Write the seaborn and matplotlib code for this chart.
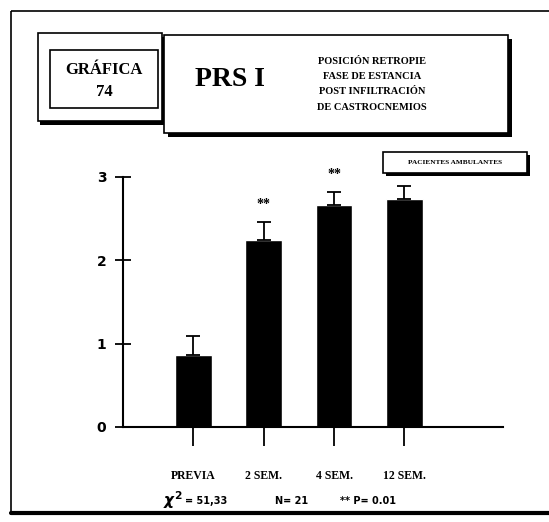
import numpy as np
import pandas as pd
import matplotlib
matplotlib.use("Agg")
import matplotlib.pyplot as plt
from matplotlib.patches import Rectangle
import seaborn as sns

#### DATA

periods = ["PREVIA", "2 SEM.", "4 SEM.", "12 SEM."]
means = [0.86, 2.24, 2.66, 2.74]
sem = [0.23, 0.22, 0.16, 0.15]
signif = ["", "**", "**", ""]
y_ticks = [0, 1, 2, 3]

df = pd.DataFrame({"Periodo": periods, "PRS": means})

sns.set_theme(style="white")
plt.rcParams["font.family"] = ["Liberation Serif", "DejaVu Serif"]
plt.rcParams["font.weight"] = "bold"
plt.rcParams["text.color"] = "black"
plt.rcParams["xtick.color"] = "black"
plt.rcParams["ytick.color"] = "black"

W, H = 549, 522
fig = plt.figure(figsize=(W / 100, H / 100), dpi=100)
fig.patch.set_facecolor("white")

#### BACKGROUND (pixel coords for frames & header)
bg = fig.add_axes([0, 0, 1, 1])
bg.set_xlim(0, W)
bg.set_ylim(H, 0)
bg.axis("off")

# outer frame
bg.add_patch(Rectangle((11, 11), 545, 503, fill=False, ec="black", lw=1.2))
bg.plot([11, 549], [513, 513], color="black", lw=3)

# GRÁFICA box (shadow + outer + inner)
bg.add_patch(Rectangle((40, 37), 124, 88, fc="black", ec="none"))
bg.add_patch(Rectangle((38, 33), 124, 88, fc="white", ec="black", lw=1.2))
bg.add_patch(Rectangle((50, 50), 108, 58, fill=False, ec="black", lw=1.2))
bg.text(104, 70, "GRÁFICA", ha="center", va="center", fontsize=12, fontweight="bold")
bg.text(104, 92, "74", ha="center", va="center", fontsize=12, fontweight="bold")

# PRS box with shadow
bg.add_patch(Rectangle((168, 39), 344, 98, fc="black", ec="none"))
bg.add_patch(Rectangle((164, 35), 344, 98, fc="white", ec="black", lw=1.2))
bg.text(230, 80, "PRS I", ha="center", va="center", fontsize=20, fontweight="bold")
subtitle = ["POSICIÓN RETROPIE", "FASE DE ESTANCIA", "POST INFILTRACIÓN", "DE CASTROCNEMIOS"]
for i, line in enumerate(subtitle):
    bg.text(372, 61 + i * 15.5, line, ha="center", va="center", fontsize=7.5, fontweight="bold")

# legend box
bg.add_patch(Rectangle((386, 155), 144, 21, fc="black", ec="none"))
bg.add_patch(Rectangle((383, 152), 144, 21, fc="white", ec="black", lw=1.2))
bg.text(455, 162.5, "PACIENTES AMBULANTES", ha="center", va="center", fontsize=5.2, fontweight="bold")

#### BAR PLOT
ax = fig.add_axes([123 / W, 1 - 427 / H, 380 / W, 250 / H])
ax.patch.set_alpha(0)
sns.barplot(data=df, x="Periodo", y="PRS", color="black", width=0.52,
            saturation=1, errorbar=None, ax=ax)
ax.errorbar(range(len(means)), means, yerr=[np.zeros(len(sem)), sem], fmt="none",
            ecolor="black", elinewidth=1.3, capsize=5, capthick=1.3, clip_on=False)
for i, s in enumerate(signif):
    if s:
        ax.text(i, means[i] + sem[i] + 0.13, s, ha="center", va="bottom",
                fontsize=10, fontweight="bold")

ax.set_xlim(-1.0, 4.4)
ax.set_ylim(0, 3)
ax.set_yticks(y_ticks)
ax.set_yticklabels([str(t) for t in y_ticks], fontsize=10, fontweight="bold",
                   family=["DejaVu Sans"])
ax.set_xticks(range(len(periods)))
ax.set_xticklabels(periods, fontsize=8.5, fontweight="bold")
ax.tick_params(axis="x", direction="out", length=14, width=1.3, pad=17, bottom=True)
ax.tick_params(axis="y", direction="inout", length=12, width=1.3, pad=6, left=True)
ax.set_xlabel("")
ax.set_ylabel("")
sns.despine(ax=ax)
for sp in ["left", "bottom"]:
    ax.spines[sp].set_linewidth(1.5)
    ax.spines[sp].set_color("black")

#### FOOTER
bg.text(163, 500, r"$\chi^{2}$", ha="left", va="center", fontsize=11)
bg.text(185, 501, "= 51,33", ha="left", va="center", fontsize=7, fontweight="bold",
        family=["DejaVu Sans"])
bg.text(275, 501, "N= 21", ha="left", va="center", fontsize=7, fontweight="bold",
        family=["DejaVu Sans"])
bg.text(340, 501, "** P= 0.01", ha="left", va="center", fontsize=7, fontweight="bold",
        family=["DejaVu Sans"])

plt.savefig("out.png", dpi=100)
